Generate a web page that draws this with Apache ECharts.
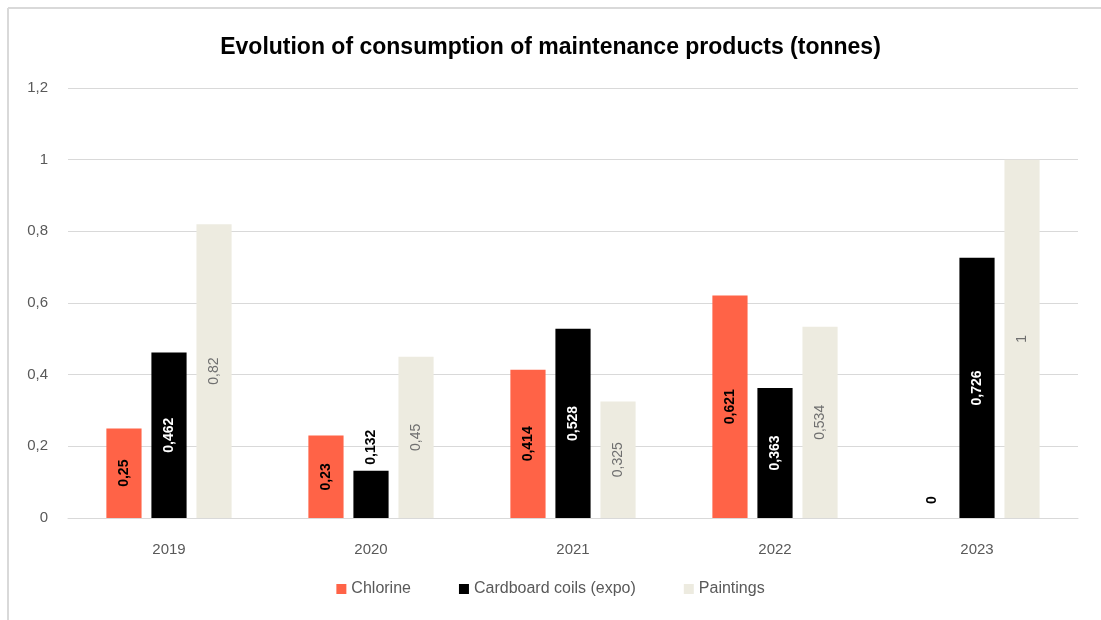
<!DOCTYPE html>
<html>
<head>
<meta charset="utf-8">
<script src="https://cdn.jsdelivr.net/npm/echarts@6/dist/echarts.min.js"></script>
<style>
  html, body { margin: 0; padding: 0; background: #fff; }
  #chart { width: 1101px; height: 620px; }
</style>
</head>
<body>
<div id="chart"></div>
<script>
// Yearly consumption of maintenance products, in tonnes
const years = ['2019', '2020', '2021', '2022', '2023'];
const chlorine = [0.25, 0.23, 0.414, 0.621, 0];
const cardboardCoils = [0.462, 0.132, 0.528, 0.363, 0.726];
const paintings = [0.82, 0.45, 0.325, 0.534, 1];
const yTicks = { min: 0, max: 1.2, interval: 0.2 };

const FONT = '"Liberation Sans", Arial, sans-serif';
const comma = v => String(v).replace('.', ',');

// Rotated value label placed in the middle of the bar
function insideLabel(color, bold) {
  return {
    show: true,
    position: 'inside',
    rotate: 90,
    align: 'center',
    verticalAlign: 'middle',
    color: color,
    fontFamily: FONT,
    fontSize: 14,
    fontWeight: bold ? 'bold' : 'normal',
    formatter: p => comma(p.value)
  };
}

// Short bars get their label above the bar; zero gets it just above the axis
function withLabelOverrides(values) {
  return values.map(v => {
    if (v === 0) {
      return { value: v, label: { position: 'insideBottom', distance: 18, align: 'center', verticalAlign: 'middle', color: '#000' } };
    }
    if (v < 0.2) {
      return { value: v, label: { position: 'top', distance: 6, align: 'left', verticalAlign: 'middle', color: '#000' } };
    }
    return v;
  });
}

const chart = echarts.init(document.getElementById('chart'));
chart.setOption({
  animation: false,
  backgroundColor: '#ffffff',
  title: {
    text: 'Evolution of consumption of maintenance products (tonnes)',
    left: 'center',
    top: 31,
    textStyle: { fontFamily: FONT, fontSize: 23, fontWeight: 'bold', color: '#000' }
  },
  graphic: [
    { type: 'line', shape: { x1: 8, y1: 8, x2: 1101, y2: 8 }, style: { stroke: '#d9d9d9', lineWidth: 2 } },
    { type: 'line', shape: { x1: 8, y1: 8, x2: 8, y2: 620 }, style: { stroke: '#d9d9d9', lineWidth: 2 } }
  ],
  legend: {
    bottom: 18,
    left: 'center',
    itemWidth: 10,
    itemHeight: 10,
    itemGap: 48,
    icon: 'rect',
    textStyle: { fontFamily: FONT, fontSize: 16, color: '#595959' },
    data: ['Chlorine', 'Cardboard coils (expo)', 'Paintings']
  },
  grid: { left: 68, right: 23, top: 88, bottom: 102 },
  xAxis: {
    type: 'category',
    data: years,
    axisLine: { lineStyle: { color: '#d9d9d9', width: 1 } },
    axisTick: { show: false },
    axisLabel: { color: '#595959', fontFamily: FONT, fontSize: 15, margin: 24 }
  },
  yAxis: {
    type: 'value',
    min: yTicks.min,
    max: yTicks.max,
    interval: yTicks.interval,
    axisLine: { show: false },
    axisTick: { show: false },
    splitLine: { lineStyle: { color: '#d9d9d9', width: 1 } },
    axisLabel: {
      color: '#595959', fontFamily: FONT, fontSize: 15, margin: 20,
      formatter: v => comma(Math.round(v * 10) / 10)
    }
  },
  series: [
    {
      name: 'Chlorine',
      type: 'bar',
      data: withLabelOverrides(chlorine),
      itemStyle: { color: '#ff6347' },
      barGap: '28%',
      barCategoryGap: '38%',
      label: insideLabel('#000000', true)
    },
    {
      name: 'Cardboard coils (expo)',
      type: 'bar',
      data: withLabelOverrides(cardboardCoils),
      itemStyle: { color: '#000000' },
      label: insideLabel('#ffffff', true)
    },
    {
      name: 'Paintings',
      type: 'bar',
      data: paintings,
      itemStyle: { color: '#edebe0' },
      label: insideLabel('#6f6f6f', false)
    }
  ]
});
</script>
</body>
</html>
